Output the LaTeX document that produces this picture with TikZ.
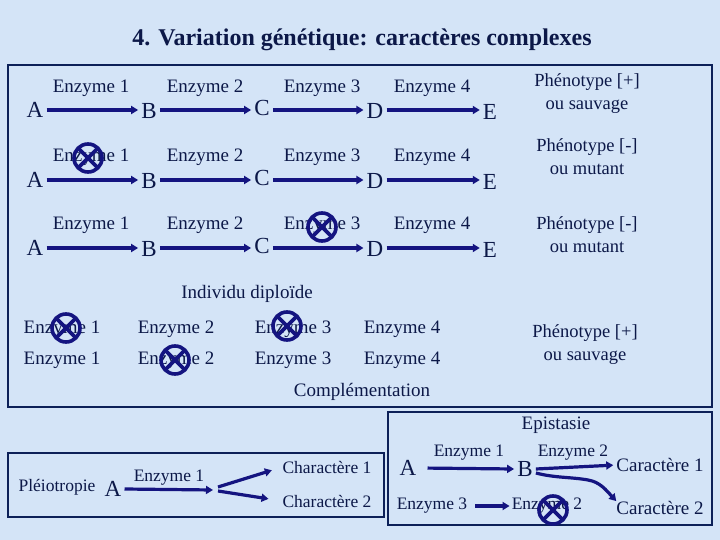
\documentclass[tikz,border=0pt]{standalone}
\usepackage{fontspec}
\setmainfont{Liberation Serif}
\usetikzlibrary{arrows.meta}
\definecolor{bgblue}{RGB}{212,228,247}
\definecolor{navytext}{RGB}{12,24,72}
\definecolor{arrowblue}{RGB}{20,20,128}
\definecolor{boxline}{RGB}{12,32,88}
\begin{document}
\begin{tikzpicture}[x=1pt,y=-1pt,
  txt/.style={text=navytext,inner sep=0pt,font=\fontsize{19}{22}\selectfont},
  smalltxt/.style={text=navytext,inner sep=0pt,font=\fontsize{17.5}{20}\selectfont},
  letter/.style={text=navytext,inner sep=3pt,font=\fontsize{23}{25}\selectfont},
  pheno/.style={text=navytext,inner sep=0pt,align=center,font=\fontsize{18.5}{23}\selectfont},
  arr/.style={draw=arrowblue,line width=3.2pt,-{Triangle[length=7pt,width=8pt]}},
  frame/.style={draw=boxline,line width=2.2pt},
  nocross/.style={circle,draw=arrowblue,line width=3.6pt,minimum size=28pt,inner sep=0pt,
    path picture={\draw[arrowblue,line width=3.6pt]
      (path picture bounding box.north west) -- (path picture bounding box.south east)
      (path picture bounding box.north east) -- (path picture bounding box.south west);}}
  ]
\fill[bgblue] (0,0) rectangle (720,540);
\useasboundingbox (0,0) rectangle (720,540);

% title
\node[text=navytext,inner sep=0pt,font=\fontsize{24}{27}\selectfont\bfseries] (title) at (362,40)
  {4. Variation génétique: caractères complexes};

% frames
\draw[frame] (8,65) rectangle (712,407);
\draw[frame] (8,453) rectangle (384,517);
\draw[frame] (388,412) rectangle (712,525);

% three pathway rows
\foreach \r/\ly/\y in {1/88/110, 2/157/180, 3/225/248} {
  \node[letter] (A\r) at (35,\y) {A};
  \node[letter] (B\r) at (149,\y+1) {B};
  \node[letter] (C\r) at (262,\y-2) {C};
  \node[letter] (D\r) at (375,\y+1) {D};
  \node[letter] (E\r) at (490,\y+2) {E};
  \node[txt] (e1r\r) at (91,\ly) {Enzyme 1};
  \node[txt] (e2r\r) at (205,\ly) {Enzyme 2};
  \node[txt] (e3r\r) at (322,\ly) {Enzyme 3};
  \node[txt] (e4r\r) at (432,\ly) {Enzyme 4};
  \draw[arr] (A\r.east) -- (A\r.east -| B\r.west);
  \draw[arr] (A\r.east -| B\r.east) -- (A\r.east -| C\r.west);
  \draw[arr] (A\r.east -| C\r.east) -- (A\r.east -| D\r.west);
  \draw[arr] (A\r.east -| D\r.east) -- (A\r.east -| E\r.west);
}
\node[pheno] (ph1) at (587,94) {Phénotype [+]\\ou sauvage};
\node[pheno] (ph2) at (587,157) {Phénotype [-]\\ou mutant};
\node[pheno] (ph3) at (587,235) {Phénotype [-]\\ou mutant};
\node[nocross] (x1) at (88,158) {};
\node[nocross] (x2) at (322,227) {};

% diploid
\node[txt] (dip) at (247,294) {Individu diploïde};
\node[txt] (d11) at (62,329) {Enzyme 1};
\node[txt] (d12) at (176,329) {Enzyme 2};
\node[txt] (d13) at (293,329) {Enzyme 3};
\node[txt] (d14) at (402,329) {Enzyme 4};
\node[txt] (d21) at (62,360) {Enzyme 1};
\node[txt] (d22) at (176,360) {Enzyme 2};
\node[txt] (d23) at (293,360) {Enzyme 3};
\node[txt] (d24) at (402,360) {Enzyme 4};
\node[pheno] (ph4) at (585,345) {Phénotype [+]\\ou sauvage};
\node[txt] (comp) at (362,392) {Complémentation};
\node[nocross] (x3) at (66,328) {};
\node[nocross] (x4) at (287,326) {};
\node[nocross] (x5) at (175,360) {};

% pleiotropy
\node[smalltxt] (pleio) at (57,487) {Pléiotropie};
\node[letter] (pA) at (113,489) {A};
\node[smalltxt] (pe1) at (169,478) {Enzyme 1};
\coordinate (pend) at (213,490);
\coordinate (pf1) at (218,487);
\coordinate (pf2) at (218,491);
\node[smalltxt] (ch1) at (327,467) {Charactère 1};
\node[smalltxt] (ch2) at (327,501) {Charactère 2};
\draw[arr] (pA.east) -- (pend);
\draw[arr,shorten >=11pt] (pf1) -- (ch1.west);
\draw[arr,shorten >=14pt] (pf2) -- (ch2.west);

% epistasis
\node[txt] (epi) at (556,425) {Epistasie};
\node[letter] (eA) at (408,468) {A};
\node[letter] (eB) at (525,469) {B};
\node[smalltxt] (ee1) at (469,453) {Enzyme 1};
\node[smalltxt] (ee2) at (573,453) {Enzyme 2};
\node[txt] (car1) at (660,465) {Caractère 1};
\node[txt] (car2) at (660,508) {Caractère 2};
\node[smalltxt] (ee3) at (432,506) {Enzyme 3};
\node[smalltxt] (ee2b) at (547,506) {Enzyme 2};
\draw[arr,shorten <=8pt] (eA.east) -- (eB.west);
\draw[arr,shorten >=3pt] (eB.east) -- (car1.west);
\draw[arr] (eB.east) ++(0,4) .. controls (555,478) and (572,477) .. (588,480)
   .. controls (600,482) and (606,490) .. (car2.north west);
\draw[arr,shorten <=8pt,shorten >=2pt] (ee3.east) -- (ee2b.west);
\node[nocross] (x6) at (553,510) {};
\end{tikzpicture}
\end{document}
